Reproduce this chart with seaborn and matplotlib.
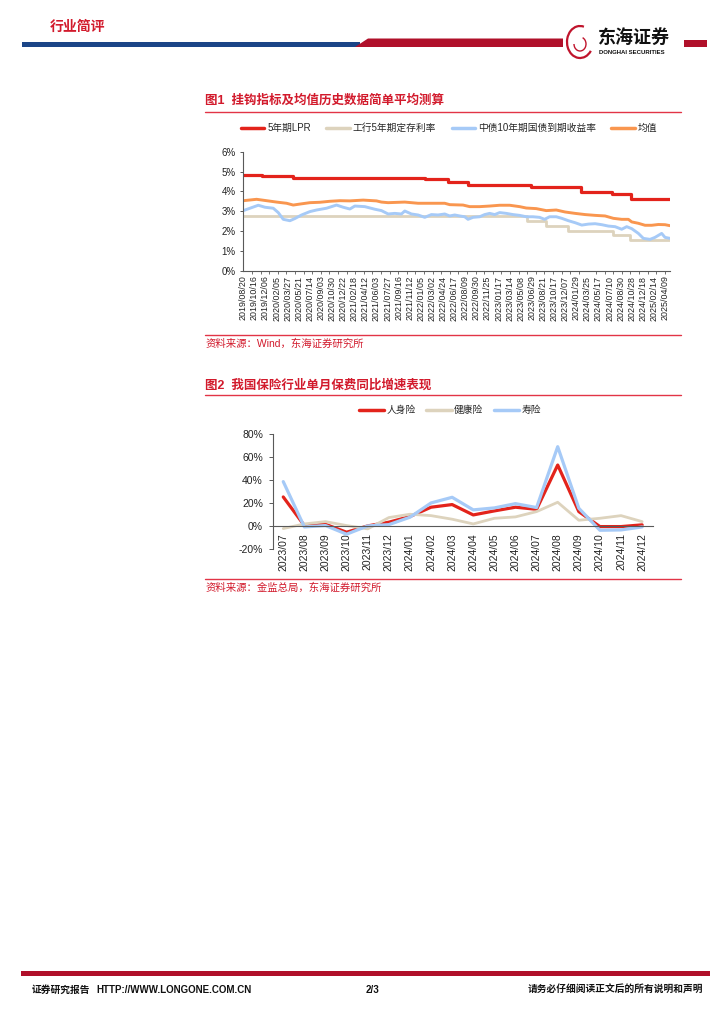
import numpy as np
import pandas as pd
import matplotlib
matplotlib.use("Agg")
import matplotlib.pyplot as plt
import seaborn as sns
from matplotlib.lines import Line2D
from matplotlib.patches import Rectangle, Polygon, Arc

# ---------------- data: chart 1 ----------------
date_labels = ["2019/08/20","2019/10/16","2019/12/06","2020/02/05","2020/03/27","2020/05/21",
               "2020/07/14","2020/09/03","2020/10/30","2020/12/22","2021/02/18","2021/04/12",
               "2021/06/03","2021/07/27","2021/09/16","2021/11/12","2022/01/05","2022/03/02",
               "2022/04/24","2022/06/17","2022/08/09","2022/09/30","2022/11/25","2023/01/17",
               "2023/03/14","2023/05/08","2023/06/29","2023/08/21","2023/10/17","2023/12/07",
               "2024/01/29","2024/03/25","2024/05/17","2024/07/10","2024/08/30","2024/10/28",
               "2024/12/18","2025/02/14","2025/04/09"]

# x positions are in units of the date-label spacing (trading-day axis)
lpr_x = [0.0, 1.65, 3.3, 4.5, 16.35, 18.45, 20.25, 25.9, 30.4, 33.25, 34.9, 38.45]
lpr_v = [4.85, 4.80, 4.75, 4.65, 4.60, 4.45, 4.30, 4.20, 3.95, 3.85, 3.60, 3.60]

dep_x = [0.0, 25.6, 27.25, 29.3, 33.35, 34.85, 38.45]
dep_v = [2.75, 2.50, 2.25, 2.00, 1.80, 1.55, 1.55]

yield_x = [0.0,0.6,1.35,1.95,2.7,3.15,3.6,4.2,4.65,5.25,6.0,6.6,7.5,8.4,9.0,9.6,10.05,10.95,
           11.85,12.45,13.05,13.65,14.25,14.55,15.15,15.75,16.35,16.95,17.55,18.15,18.6,19.05,
           19.5,19.95,20.25,20.7,21.3,21.75,22.2,22.65,23.1,23.7,24.3,24.9,25.5,26.1,26.7,27.15,
           27.6,28.2,28.7,29.3,29.9,30.5,31.1,31.7,32.3,32.9,33.5,34.1,34.55,35.0,35.6,36.05,
           36.65,37.1,37.7,38.0,38.45]
yield_v = [3.03,3.15,3.30,3.20,3.15,2.93,2.59,2.52,2.63,2.81,2.98,3.06,3.15,3.31,3.20,3.11,3.26,3.23,
           3.10,3.03,2.86,2.89,2.86,3.01,2.86,2.81,2.69,2.83,2.81,2.86,2.76,2.81,
           2.76,2.72,2.59,2.69,2.72,2.83,2.89,2.83,2.93,2.89,2.83,2.79,2.72,2.72,2.69,2.59,
           2.72,2.72,2.64,2.52,2.42,2.30,2.35,2.37,2.32,2.25,2.22,2.09,2.22,2.12,1.88,1.63,
           1.58,1.68,1.88,1.68,1.63]

avg_x = [0.0,1.2,2.1,3.0,3.9,4.5,5.1,6.0,6.9,7.8,8.7,9.6,10.8,12.0,12.45,13.05,14.55,15.75,16.95,
         18.15,18.6,19.8,20.4,21.3,22.2,23.1,24.0,24.9,25.5,26.4,27.3,28.2,29.0,29.9,30.8,31.7,
         32.6,33.35,34.1,34.7,35.0,35.6,36.2,36.8,37.4,38.0,38.45]
avg_v = [3.53,3.60,3.53,3.46,3.40,3.31,3.36,3.43,3.45,3.50,3.53,3.52,3.56,3.52,3.46,3.43,3.46,3.40,3.40,
         3.40,3.33,3.31,3.23,3.23,3.26,3.30,3.30,3.23,3.16,3.13,3.03,3.06,2.96,2.89,2.83,2.79,
         2.76,2.64,2.59,2.59,2.46,2.39,2.29,2.29,2.33,2.32,2.27]

series1_names = ["5年期LPR", "工行5年期定存利率", "中债10年期国债到期收益率", "均值"]

# ---------------- data: chart 2 ----------------
months = ["2023/07","2023/08","2023/09","2023/10","2023/11","2023/12","2024/01","2024/02","2024/03",
          "2024/04","2024/05","2024/06","2024/07","2024/08","2024/09","2024/10","2024/11","2024/12"]
life_ins = [25.4, 0.6, 1.7, -5.2, 0.3, 3.5, 8.4, 16.5, 18.8, 9.8, 13.3, 16.5, 14.7, 53.1, 12.7, -0.3, -0.3, 1.2]
health_ins = [-2.0, 2.0, 4.0, 0.6, -2.3, 7.5, 10.4, 9.2, 6.1, 2.0, 6.9, 8.1, 12.7, 20.8, 5.2, 6.9, 9.2, 4.0]
shou_ins = [38.7, -0.6, 0.6, -6.9, 0.3, 1.4, 7.8, 20.2, 25.1, 14.2, 15.9, 19.6, 16.2, 69.0, 15.6, -3.5, -3.2, -0.6]
series2_names = ["人身险", "健康险", "寿险"]

# ---------------- style ----------------
sns.set_theme(style="white")
plt.rcParams["font.family"] = ["Liberation Sans", "Noto Sans CJK SC", "DejaVu Sans"]
plt.rcParams["axes.unicode_minus"] = False

RED = "#E3231B"
TAN = "#DDD3BD"
BLUE = "#A6CAF7"
ORANGE = "#F9964F"
TITLE_RED = "#D21A2C"
LINE_RED = "#E23447"
AXIS = "#595959"

W, H = 724, 1024
fig = plt.figure(figsize=(7.24, 10.24), dpi=100)
fig.patch.set_facecolor("white")

def fx(x):
    return x / W

def fy(y):
    return 1 - y / H

def hline(x0, x1, y, color, lw):
    fig.add_artist(Line2D([fx(x0), fx(x1)], [fy(y), fy(y)], color=color, lw=lw,
                          transform=fig.transFigure))

# ---------------- header ----------------
fig.text(fx(50), fy(27), "行业简评", fontsize=10, fontweight="bold", color=TITLE_RED,
         va="center", ha="left")
fig.add_artist(Rectangle((fx(22), fy(46.5)), fx(360) - fx(22), (46.5 - 41.5) / H,
                         transform=fig.transFigure, color="#1B4587", lw=0))
fig.add_artist(Polygon([(fx(355), fy(47)), (fx(368), fy(38.5)), (fx(563), fy(38.5)), (fx(563), fy(47))],
                       closed=True, transform=fig.transFigure, color="#B0102A", lw=0))
fig.add_artist(Rectangle((fx(684), fy(47)), fx(707) - fx(684), (47 - 39.5) / H,
                         transform=fig.transFigure, color="#B0102A", lw=0))
# logo (simplified dragon ring)
fig.add_artist(Arc((fx(580), fy(42)), 26 / W, 32 / H, theta1=70, theta2=330,
                   transform=fig.transFigure, color="#C0142C", lw=1.6))
fig.add_artist(Arc((fx(580), fy(44)), 12 / W, 14 / H, theta1=180, theta2=420,
                   transform=fig.transFigure, color="#C0142C", lw=1.0))
fig.text(fx(598), fy(38), "东海证券", fontsize=13, fontweight="bold", color="#111111",
         va="center", ha="left")
fig.text(fx(599), fy(52.5), "DONGHAI SECURITIES", fontsize=4.3, fontweight="bold", color="#111111",
         va="center", ha="left")

# ---------------- chart 1 ----------------
fig.text(fx(205), fy(101), "图1  挂钩指标及均值历史数据简单平均测算", fontsize=9, fontweight="bold",
         color=TITLE_RED, va="center", ha="left")
hline(205, 681, 112, LINE_RED, 1.0)

ax1 = fig.add_axes([fx(243.3), fy(270.7), (670 - 243.3) / W, (270.7 - 151.7) / H])
sns.lineplot(x=lpr_x, y=lpr_v, ax=ax1, color=RED, lw=2.3, drawstyle="steps-post", sort=False)
sns.lineplot(x=dep_x, y=dep_v, ax=ax1, color=TAN, lw=2.0, drawstyle="steps-post", sort=False)
sns.lineplot(x=yield_x, y=yield_v, ax=ax1, color=BLUE, lw=2.1, sort=False)
sns.lineplot(x=avg_x, y=avg_v, ax=ax1, color=ORANGE, lw=2.1, sort=False)

for s in ["top", "right"]:
    ax1.spines[s].set_visible(False)
for s in ["left", "bottom"]:
    ax1.spines[s].set_color(AXIS)
    ax1.spines[s].set_linewidth(0.8)
ax1.set_xlim(0, 38.45)
ax1.set_ylim(0, 6)
ax1.set_yticks(range(0, 7))
ax1.set_yticklabels([f"{v}%" for v in range(0, 7)])
ax1.set_xticks(range(len(date_labels)))
ax1.set_xticklabels(date_labels)
ax1.set_xticks(np.arange(0, 38.46, 0.775), minor=True)
ax1.tick_params(axis="y", left=True, length=2.5, width=0.7, color=AXIS, labelsize=7,
                labelcolor="#222222", pad=3)
ax1.tick_params(axis="x", which="major", bottom=True, length=0, labelsize=6.4,
                labelcolor="#222222", pad=3.5, labelrotation=90)
ax1.tick_params(axis="x", which="minor", bottom=True, length=2.5, width=0.6, color=AXIS)
ax1.set_xlabel("")
ax1.set_ylabel("")
ax1.grid(False)

h1 = [Line2D([], [], color=c, lw=2.5) for c in [RED, TAN, BLUE, ORANGE]]
fig.legend(h1, series1_names, loc="center", bbox_to_anchor=(fx(449), fy(128)), ncol=4,
           frameon=False, fontsize=7, handlelength=2.4, handletextpad=0.3, columnspacing=1.6)

hline(205, 681, 335, LINE_RED, 1.0)
fig.text(fx(206), fy(344), "资料来源：Wind，东海证券研究所", fontsize=7.5, color=TITLE_RED,
         va="center", ha="left")

# ---------------- chart 2 ----------------
fig.text(fx(205), fy(385), "图2  我国保险行业单月保费同比增速表现", fontsize=9, fontweight="bold",
         color=TITLE_RED, va="center", ha="left")
hline(205, 681, 394.5, LINE_RED, 1.0)

ax2 = fig.add_axes([fx(272.7), fy(549.3), (652.7 - 272.7) / W, (549.3 - 434) / H])
xpos = np.arange(len(months))
sns.lineplot(x=xpos, y=life_ins, ax=ax2, color=RED, lw=2.3, sort=False)
sns.lineplot(x=xpos, y=health_ins, ax=ax2, color=TAN, lw=2.0, sort=False)
sns.lineplot(x=xpos, y=shou_ins, ax=ax2, color=BLUE, lw=2.3, sort=False)

ax2.spines["bottom"].set_position(("data", 0))
for s in ["top", "right"]:
    ax2.spines[s].set_visible(False)
for s in ["left", "bottom"]:
    ax2.spines[s].set_color(AXIS)
    ax2.spines[s].set_linewidth(0.8)
ax2.set_xlim(-0.5, len(months) - 0.5)
ax2.set_ylim(-20, 80)
ax2.set_yticks(range(-20, 81, 20))
ax2.set_yticklabels([f"{v}%" for v in range(-20, 81, 20)])
ax2.set_xticks(xpos)
ax2.set_xticklabels(months)
ax2.tick_params(axis="y", left=True, length=3, width=0.7, color=AXIS, labelsize=7.5,
                labelcolor="#222222", pad=4)
ax2.tick_params(axis="x", bottom=False, length=0, labelsize=7.5, labelcolor="#222222", pad=5,
                labelrotation=90)
ax2.set_xlabel("")
ax2.set_ylabel("")
ax2.grid(False)

h2 = [Line2D([], [], color=c, lw=2.5) for c in [RED, TAN, BLUE]]
fig.legend(h2, series2_names, loc="center", bbox_to_anchor=(fx(450), fy(410)), ncol=3,
           frameon=False, fontsize=7, handlelength=2.6, handletextpad=0.25, columnspacing=1.1)

hline(205, 681, 579, LINE_RED, 1.0)
fig.text(fx(206), fy(588), "资料来源：金监总局，东海证券研究所", fontsize=7.5, color=TITLE_RED,
         va="center", ha="left")

# ---------------- footer ----------------
fig.add_artist(Rectangle((fx(21), fy(976)), fx(710) - fx(21), 5 / H,
                         transform=fig.transFigure, color="#B0102A", lw=0))
fig.text(fx(32), fy(990), "证券研究报告", fontsize=7, fontweight="bold", color="#111111",
         va="center", ha="left")
fig.text(fx(96), fy(990), "HTTP://WWW.LONGONE.COM.CN", fontsize=7, fontweight="bold",
         color="#111111", va="center", ha="left")
fig.text(fx(366), fy(990), "2/3", fontsize=7, fontweight="bold", color="#111111",
         va="center", ha="left")
fig.text(fx(703), fy(990), "请务必仔细阅读正文后的所有说明和声明", fontsize=7, fontweight="bold",
         color="#111111", va="center", ha="right")

fig.savefig("out.png", dpi=100, facecolor="white")
